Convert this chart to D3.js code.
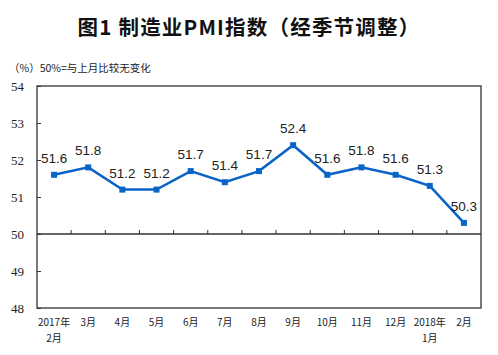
<!DOCTYPE html>
<html><head><meta charset="utf-8">
<script src="https://cdn.jsdelivr.net/npm/d3@7"></script>
<style>body{margin:0;background:#fff;}svg{display:block;}</style>
</head><body>
<svg id="c" width="498" height="355"></svg>
<script>
const categories = ["2017年\n2月","3月","4月","5月","6月","7月","8月","9月","10月","11月","12月","2018年\n1月","2月"];
const pmi = [51.6,51.8,51.2,51.2,51.7,51.4,51.7,52.4,51.6,51.8,51.6,51.3,50.3];
const yTicks = [48,49,50,51,52,53,54];
const title = "图1 制造业PMI指数（经季节调整）";
const subtitle = "（%）50%=与上月比较无变化";

const svg = d3.select("#c");
const L=37, R=481, T=86, B=308;
const x = d3.scaleBand().domain(categories).range([L,R]).padding(0);
const y = d3.scaleLinear().domain([48,54]).range([B,T]);
const col = "#0a64c8";

svg.append("text").attr("x",249).attr("y",35).attr("text-anchor","middle")
  .attr("font-family","'Noto Sans CJK SC'").attr("font-weight","bold").attr("font-size",20.5)
  .attr("letter-spacing",1.2).attr("fill","#111").text(title);
svg.append("text").attr("x",9).attr("y",72)
  .attr("font-family","'Noto Sans CJK SC'").attr("font-size",10.5).attr("fill","#222").text(subtitle);

// frame
svg.append("rect").attr("x",L).attr("y",T).attr("width",R-L).attr("height",B-T)
  .attr("fill","none").attr("stroke","#333").attr("stroke-width",1.3);

// y axis
const ya = svg.append("g").attr("transform",`translate(${L},0)`)
  .call(d3.axisLeft(y).tickValues(yTicks).tickSize(-4).tickPadding(13).tickFormat(d3.format("d")));
ya.select(".domain").remove();
ya.selectAll("line").attr("stroke","#333");
ya.selectAll("text").attr("font-family","'Liberation Serif'").attr("font-size",13).attr("fill","#222");

// baseline at 50 with ticks between categories
svg.append("line").attr("x1",L).attr("x2",R).attr("y1",y(50)).attr("y2",y(50)).attr("stroke","#333").attr("stroke-width",1.3);
const bounds = categories.slice(1).map(c=>x(c));
svg.selectAll(".xt").data(bounds).enter().append("line")
  .attr("x1",d=>d).attr("x2",d=>d).attr("y1",y(50)).attr("y2",y(50)-4).attr("stroke","#333");

// x labels
const xl = svg.append("g").selectAll("text").data(categories).enter().append("text")
  .attr("x",d=>x(d)+x.bandwidth()/2).attr("y",326).attr("text-anchor","middle")
  .attr("font-family","'Noto Sans CJK SC'").attr("font-size",10).attr("fill","#222");
xl.each(function(d){
  const parts=d.split("\n");
  d3.select(this).selectAll("tspan").data(parts).enter().append("tspan")
    .attr("x",x(d)+x.bandwidth()/2).attr("dy",(p,i)=>i?16:0).text(p=>p);
});

// line
const cx = (d,i)=>x(categories[i])+x.bandwidth()/2;
svg.append("path").datum(pmi).attr("fill","none").attr("stroke",col).attr("stroke-width",2.5)
  .attr("d",d3.line().x(cx).y(d=>y(d)));
svg.selectAll(".m").data(pmi).enter().append("rect")
  .attr("x",(d,i)=>cx(d,i)-3).attr("y",d=>y(d)-3).attr("width",6).attr("height",6).attr("fill",col);
svg.selectAll(".lb").data(pmi).enter().append("text")
  .attr("x",cx).attr("y",d=>y(d)-12).attr("text-anchor","middle")
  .attr("font-family","'Liberation Sans'").attr("font-size",13.5).attr("fill","#222").text(d=>d.toFixed(1));
</script>
</body></html>
